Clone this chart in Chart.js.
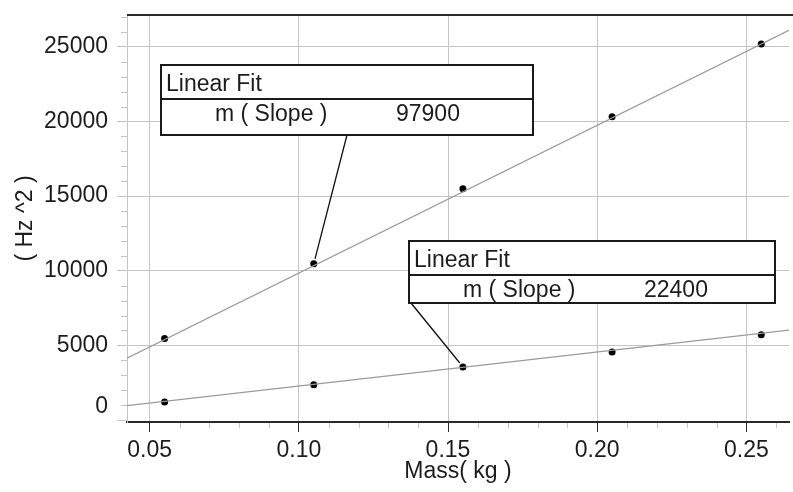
<!DOCTYPE html>
<html><head><meta charset="utf-8">
<script src="https://cdn.jsdelivr.net/npm/chart.js@4"></script>
<style>html,body{margin:0;padding:0;background:#fff;overflow:hidden}</style>
</head><body>
<canvas id="c" width="793" height="492" style="display:block;width:793px;height:492px"></canvas>
<script>
// ---- data ----
const massKg      = [0.055, 0.105, 0.155, 0.205, 0.255];
const hzSqUpper   = [5470, 10470, 15490, 20320, 25185];
const hzSqLower   = [1217, 2370, 3560, 4560, 5720];
const fitXEnds    = [0.0424, 0.2643];
const fitUpperEnds = [4150, 26100];
const fitLowerEnds = [970, 6030];
const fitSlopes   = [97900, 22400];
const xTickLabels = ['0.05', '0.10', '0.15', '0.20', '0.25'];
const yTickLabels = ['0', '5000', '10000', '15000', '20000', '25000'];
const xRange = [0.0424, 0.2643];
const yRange = [-130, 27130];
const xTitle = 'Mass( kg )';
const yTitle = '( Hz ^2 )';
const boxTitle = 'Linear Fit';
const boxParam = 'm ( Slope )';

// ---- styles ----
const FONT = '"Liberation Sans", Arial, sans-serif';
const FS = 23;
const TXT = '#1c1c1c';
const GRID = '#c4c4c4';
const DARK = '#2a2a2a';

const xLabelFor = v => xTickLabels.find(l => Math.abs(parseFloat(l) - v) < 1e-9);
const yLabelFor = v => yTickLabels.find(l => Math.abs(parseFloat(l) - v) < 1e-6);

const zip = (xs, ys) => xs.map((x, i) => ({x, y: ys[i]}));

// annotation layout (pixels)
const boxes = [
  {left: 161, top: 65, right: 533, bottom: 135, divider: 99, anchorX: 347, anchorY: 135, series: hzSqUpper, idx: 1, value: fitSlopes[0]},
  {left: 409, top: 241, right: 775, bottom: 303, divider: 275, anchorX: 411, anchorY: 303, series: hzSqLower, idx: 2, value: fitSlopes[1]}
];

const deco = {
  id: 'deco',
  afterDraw(chart) {
    const {ctx, chartArea: ca, scales: {x, y}} = chart;
    ctx.save();
    // top frame line
    ctx.strokeStyle = DARK; ctx.lineWidth = 2;
    ctx.beginPath(); ctx.moveTo(ca.left, ca.top); ctx.lineTo(chart.width, ca.top); ctx.stroke();
    // minor ticks y
    ctx.strokeStyle = GRID; ctx.lineWidth = 1;
    for (let v = Math.ceil(y.min / 1000) * 1000; v <= y.max; v += 1000) {
      if (v % 5000 === 0) continue;
      const py = Math.round(y.getPixelForValue(v)) + 0.5;
      ctx.beginPath(); ctx.moveTo(ca.left - 6, py); ctx.lineTo(ca.left, py); ctx.stroke();
    }
    // minor ticks x
    for (let k = Math.ceil(x.min * 100); k <= Math.floor(x.max * 100); k++) {
      if (k % 5 === 0) continue;
      const px = Math.round(x.getPixelForValue(k / 100)) + 0.5;
      ctx.beginPath(); ctx.moveTo(px, ca.bottom + 1); ctx.lineTo(px, ca.bottom + 6); ctx.stroke();
    }
    // zero label drawn slightly raised (as in reference)
    ctx.fillStyle = TXT; ctx.font = FS + 'px ' + FONT;
    ctx.textAlign = 'right'; ctx.textBaseline = 'middle';
    ctx.fillText(yTickLabels[0], ca.left - 19, y.getPixelForValue(0) - 13);
    // leader lines + boxes
    boxes.forEach(b => {
      const px = x.getPixelForValue(massKg[b.idx]);
      const py = y.getPixelForValue(b.series[b.idx]);
      const dx = px - b.anchorX, dy = py - b.anchorY, d = Math.hypot(dx, dy);
      ctx.strokeStyle = '#111'; ctx.lineWidth = 1.3;
      ctx.beginPath(); ctx.moveTo(b.anchorX, b.anchorY);
      ctx.lineTo(px - dx / d * 5, py - dy / d * 5); ctx.stroke();
      ctx.fillStyle = '#fff';
      ctx.fillRect(b.left, b.top, b.right - b.left, b.bottom - b.top);
      ctx.strokeStyle = '#1a1a1a'; ctx.lineWidth = 2;
      ctx.strokeRect(b.left, b.top, b.right - b.left, b.bottom - b.top);
      ctx.beginPath(); ctx.moveTo(b.left, b.divider); ctx.lineTo(b.right, b.divider); ctx.stroke();
      ctx.fillStyle = TXT; ctx.textAlign = 'left'; ctx.textBaseline = 'alphabetic';
      ctx.fillText(boxTitle, b.left + 5, b.top + 26);
      ctx.fillText(boxParam, b.left + 54, b.top + 56);
      ctx.fillText(String(b.value), b.left + 235, b.top + 56);
    });
    ctx.restore();
  }
};

function stepTicks(min, max, perUnit) {
  const t = [];
  for (let k = Math.ceil(min * perUnit); k <= Math.floor(max * perUnit); k++) t.push({value: k / perUnit});
  return t;
}

new Chart(document.getElementById('c'), {
  type: 'scatter',
  data: {
    datasets: [
      {data: zip(fitXEnds, fitUpperEnds), showLine: true, pointRadius: 0, borderColor: '#9a9a9a', borderWidth: 1.2},
      {data: zip(fitXEnds, fitLowerEnds), showLine: true, pointRadius: 0, borderColor: '#9a9a9a', borderWidth: 1.2},
      {data: zip(massKg, hzSqUpper), showLine: false, pointRadius: 3.5, pointBackgroundColor: '#000', pointBorderWidth: 0},
      {data: zip(massKg, hzSqLower), showLine: false, pointRadius: 3.5, pointBackgroundColor: '#000', pointBorderWidth: 0}
    ]
  },
  options: {
    responsive: false,
    devicePixelRatio: 1,
    animation: false,
    events: [],
    layout: {padding: {top: 15, right: -4, left: 0, bottom: 0}},
    plugins: {legend: {display: false}, tooltip: {enabled: false}},
    scales: {
      x: {
        type: 'linear', min: xRange[0], max: xRange[1],
        afterBuildTicks(s) { s.ticks = stepTicks(s.min, s.max, 100); },
        afterFit(s) { s.height = 70; s.paddingLeft = 0; s.paddingRight = 0; },
        border: {color: DARK, width: 2},
        grid: {
          color: c => (c.tick && xLabelFor(c.tick.value)) ? GRID : 'transparent',
          tickColor: c => (c.tick && xLabelFor(c.tick.value)) ? DARK : 'transparent',
          tickLength: 10, lineWidth: 1
        },
        ticks: {
          autoSkip: false, maxRotation: 0, minRotation: 0, padding: 5,
          color: TXT, font: {family: FONT, size: FS},
          callback: v => xLabelFor(v) || ''
        },
        title: {display: true, text: xTitle, color: TXT, font: {family: FONT, size: FS}, padding: {top: 0, bottom: 7}}
      },
      y: {
        type: 'linear', min: yRange[0], max: yRange[1],
        afterBuildTicks(s) { s.ticks = stepTicks(s.min, s.max, 1 / 1000).map(t => ({value: Math.round(t.value)})); },
        afterFit(s) { s.width = 127; s.paddingTop = 0; s.paddingBottom = 0; },
        border: {color: GRID, width: 1},
        grid: {
          color: c => (c.tick && yLabelFor(c.tick.value) && c.tick.value !== 0) ? GRID : 'transparent',
          tickColor: c => (c.tick && yLabelFor(c.tick.value)) ? GRID : 'transparent',
          tickLength: 10, lineWidth: 1
        },
        ticks: {
          autoSkip: false, padding: 9,
          color: c => (c.tick && c.tick.value === 0) ? 'transparent' : TXT,
          font: {family: FONT, size: FS},
          callback: v => yLabelFor(v) || ''
        },
        title: {display: true, text: yTitle, color: TXT, font: {family: FONT, size: FS}, padding: {top: 12, bottom: 0}}
      }
    }
  },
  plugins: [deco]
});
</script>
</body></html>
